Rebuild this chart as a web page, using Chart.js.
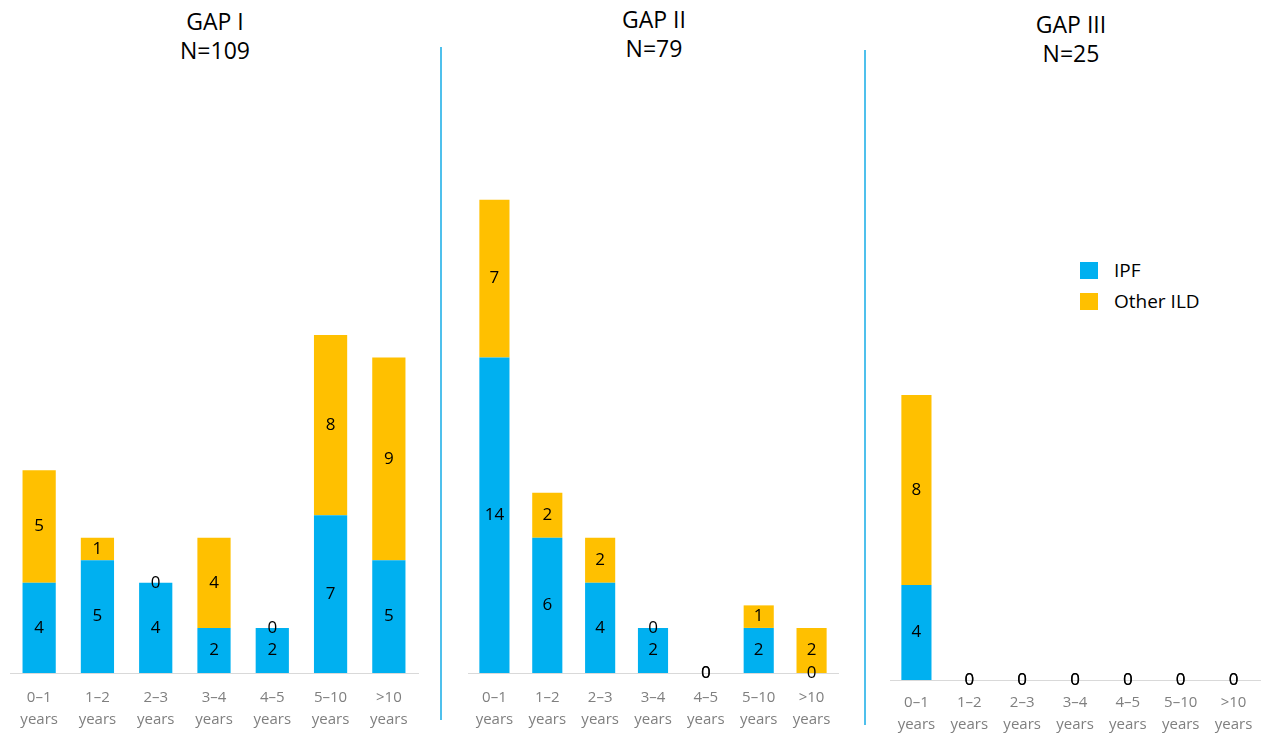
<!DOCTYPE html>
<html>
<head>
<meta charset="utf-8">
<script src="https://cdn.jsdelivr.net/npm/chart.js@4.4.1/dist/chart.umd.min.js"></script>
<style>
  html, body { margin: 0; padding: 0; background: #fff; overflow: hidden; }
  #wrap { position: relative; width: 1266px; height: 735px; font-family: "Open Sans", sans-serif; }
  canvas.panel { position: absolute; left: 0; top: 0; }
  .title { position: absolute; width: 200px; text-align: center; font-size: 23px; line-height: 29px; color: #000; }
  .sep { position: absolute; width: 2px; background: #4fc0ec; }
  .legend { position: absolute; left: 1080px; top: 258px; font-size: 19px; color: #000; }
  .legend div { height: 31px; line-height: 24px; }
  .legend span { display: inline-block; width: 18px; height: 17px; vertical-align: -2px; margin-right: 16px; }
</style>
</head>
<body>
<div id="wrap">
  <div class="title" style="left:115px; top:7px;">GAP I<br>N=109</div>
  <div class="title" style="left:554px; top:5px;">GAP II<br>N=79</div>
  <div class="title" style="left:971px; top:10px;">GAP III<br>N=25</div>
  <div class="sep" style="left:440px; top:47px; height:673px;"></div>
  <div class="sep" style="left:864px; top:50px; height:675px;"></div>
  <div class="legend">
    <div><span style="background:#00B0F0"></span>IPF</div>
    <div><span style="background:#FFC000"></span>Other ILD</div>
  </div>
  <canvas id="gap1" class="panel" width="1266" height="760"></canvas>
  <canvas id="gap2" class="panel" width="1266" height="760"></canvas>
  <canvas id="gap3" class="panel" width="1266" height="760"></canvas>
</div>
<script>
const categories = [
  ["0–1", "years"], ["1–2", "years"], ["2–3", "years"], ["3–4", "years"],
  ["4–5", "years"], ["5–10", "years"], [">10", "years"]
];
const seriesNames = ["IPF", "Other ILD"];

const gap1IPF = [4, 5, 4, 2, 2, 7, 5];
const gap1Other = [5, 1, 0, 4, 0, 8, 9];

const gap2IPF = [14, 6, 4, 2, 0, 2, 0];
const gap2Other = [7, 2, 2, 0, 0, 1, 2];

const gap3IPF = [4, 0, 0, 0, 0, 0, 0];
const gap3Other = [8, 0, 0, 0, 0, 0, 0];

// simple value labels in the middle of each stacked piece
const barLabels = {
  id: "barLabels",
  afterDatasetsDraw(chart) {
    const ctx = chart.ctx;
    ctx.save();
    ctx.fillStyle = "#000";
    ctx.font = "17px 'Open Sans'";
    ctx.textAlign = "center";
    ctx.textBaseline = "middle";
    chart.data.datasets.forEach((ds, i) => {
      chart.getDatasetMeta(i).data.forEach((el, j) => {
        const y = (el.y + el.base) / 2;
        ctx.fillText(ds.data[j], el.x, y);
      });
    });
    ctx.restore();
  }
};

function makePanel(id, ipf, other, pad, tickPad) {
  new Chart(document.getElementById(id), {
    type: "bar",
    data: {
      labels: categories,
      datasets: [
        { label: seriesNames[0], data: ipf, backgroundColor: "#00B0F0" },
        { label: seriesNames[1], data: other, backgroundColor: "#FFC000" }
      ]
    },
    options: {
      responsive: false,
      animation: false,
      events: [],
      layout: { padding: pad },
      datasets: { bar: { categoryPercentage: 1, barPercentage: 0.57 } },
      plugins: { legend: { display: false }, tooltip: { enabled: false } },
      scales: {
        x: {
          stacked: true,
          grid: { display: false, drawTicks: false },
          border: { display: true, color: "#d9d9d9", width: 1 },
          ticks: {
            color: "#7f7f7f",
            font: { family: "Open Sans", size: 15, lineHeight: "22px" },
            padding: tickPad,
            autoSkip: false,
            maxRotation: 0
          }
        },
        y: { stacked: true, display: false, min: 0, max: 24 }
      }
    },
    plugins: [barLabels]
  });
}

makePanel("gap1", gap1IPF, gap1Other, { left: 10, right: 848, top: 132, bottom: 15 }, 14);
makePanel("gap2", gap2IPF, gap2Other, { left: 468, right: 428, top: 132, bottom: 15 }, 14);
makePanel("gap3", gap3IPF, gap3Other, { left: 890, right: 6, top: 110, bottom: 12 }, 12);
</script>
</body>
</html>
